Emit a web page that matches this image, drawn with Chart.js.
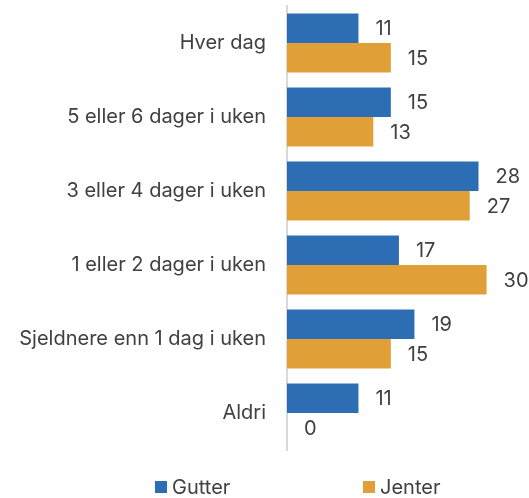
<!DOCTYPE html>
<html>
<head>
<meta charset="utf-8">
<script src="https://cdn.jsdelivr.net/npm/chart.js@4/dist/chart.umd.min.js"></script>
<style>
  html, body { margin: 0; padding: 0; background: #fff; }
  #wrap { position: relative; width: 529px; height: 498px; }
  .legend { position: absolute; top: 475px; font: 20px Inter, sans-serif; color: #404040; display: flex; align-items: center; }
  .legend span.box { width: 12px; height: 12px; display: inline-block; margin-right: 5px; }
</style>
</head>
<body>
<div id="wrap">
  <canvas id="chart" width="529" height="498"></canvas>
  <div class="legend" style="left:155px"><span class="box" style="background:#2C6DB3"></span>Gutter</div>
  <div class="legend" style="left:363px"><span class="box" style="background:#E19F38"></span>Jenter</div>
</div>
<script>
var categories = ["Hver dag", "5 eller 6 dager i uken", "3 eller 4 dager i uken", "1 eller 2 dager i uken", "Sjeldnere enn 1 dag i uken", "Aldri"]
var gutter = [10.6, 15.4, 28.4, 16.6, 18.9, 10.6]
var jenter = [15.4, 12.8, 27.1, 29.6, 15.4, 0]
var seriesNames = ["Gutter", "Jenter"]
var seriesColors = ["#2C6DB3", "#E19F38"]

// value labels to the right of each bar
const barLabels = {
    id: 'barLabels',
    afterDatasetsDraw(chart) {
        const ctx = chart.ctx
        ctx.save()
        ctx.font = '20px Inter, sans-serif'
        ctx.fillStyle = '#404040'
        ctx.textBaseline = 'middle'
        ctx.textAlign = 'left'
        chart.data.datasets.forEach((ds, i) => {
            chart.getDatasetMeta(i).data.forEach((bar, j) => {
                ctx.fillText(Math.round(ds.data[j]), bar.x + 17, bar.y + 1)
            })
        })
        ctx.restore()
    }
}

new Chart(document.getElementById('chart'), {
    type: 'bar',
    data: {
        labels: categories,
        datasets: [
            { label: seriesNames[0], data: gutter, backgroundColor: seriesColors[0] },
            { label: seriesNames[1], data: jenter, backgroundColor: seriesColors[1] }
        ]
    },
    options: {
        indexAxis: 'y',
        responsive: false,
        animation: false,
        categoryPercentage: 0.8,
        barPercentage: 1,
        layout: { padding: { top: 6, bottom: 48, left: 0, right: 6 } },
        scales: {
            x: {
                display: false,
                min: 0,
                max: 35
            },
            y: {
                afterFit: (scale) => {
                    scale.width = 287
                    scale.paddingTop = 0
                    scale.paddingBottom = 0
                },
                grid: { display: false, drawTicks: false },
                border: { display: true, color: '#d9d9d9', width: 2 },
                ticks: {
                    padding: 21,
                    color: '#404040',
                    font: { family: 'Inter, sans-serif', size: 20 }
                }
            }
        },
        plugins: {
            legend: { display: false },
            tooltip: { enabled: false }
        }
    },
    plugins: [barLabels]
})
</script>
</body>
</html>
